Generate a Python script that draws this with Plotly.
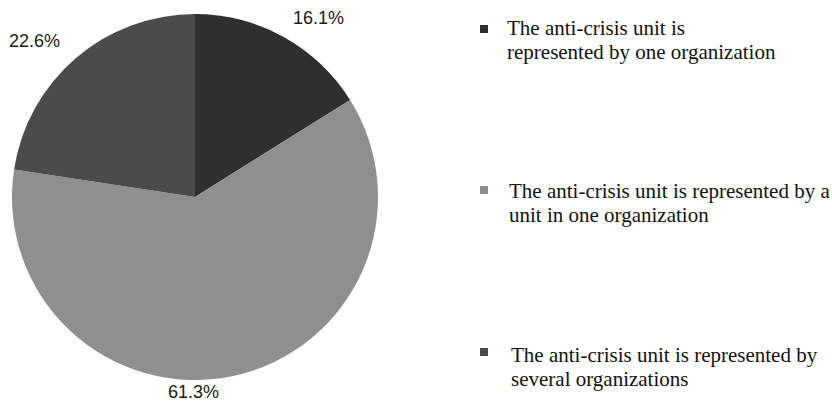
import plotly.graph_objects as go

W, H = 832, 405

# Survey shares of how the anti-crisis unit is organised
categories = [
    "The anti-crisis unit is<br>represented by one organization",
    "The anti-crisis unit is represented by a<br>unit in one organization",
    "The anti-crisis unit is represented by<br>several organizations",
]
shares = [16.1, 61.3, 22.6]
colors = ["#2f2f2f", "#8f8f8f", "#4b4b4b"]


def px(x):
    return x / W


def py(y):
    return 1 - y / H


fig = go.Figure()
fig.add_trace(go.Pie(
    labels=categories,
    values=shares,
    sort=False,
    direction="clockwise",
    rotation=0,
    marker=dict(colors=colors, line=dict(width=0)),
    textinfo="none",
    hoverinfo="label+percent",
    showlegend=False,
    domain=dict(x=[px(12), px(378)], y=[py(380), py(14)]),
))

# Percentage labels outside the slices
label_pos = [(318, 18), (193, 392), (34, 41)]
for v, (lx, ly) in zip(shares, label_pos):
    fig.add_annotation(
        x=px(lx), y=py(ly), xref="paper", yref="paper",
        text=f"{v}%", showarrow=False,
        font=dict(family="Liberation Sans, Arial, sans-serif", size=18, color="#1a1a1a"),
        xanchor="center", yanchor="middle",
    )

# Hand-placed legend: square swatch plus two-line caption
legend_rows = [(29, 28, 505), (190, 191, 507), (352, 355, 509)]
line_gap = 24
for cat, col, (my, ty, tx) in zip(categories, colors, legend_rows):
    fig.add_shape(
        type="rect", xref="paper", yref="paper",
        x0=px(480), x1=px(488), y0=py(my + 4), y1=py(my - 4),
        fillcolor=col, line=dict(width=0),
    )
    for i, line in enumerate(cat.split("<br>")):
        fig.add_annotation(
            x=px(tx), y=py(ty + i * line_gap), xref="paper", yref="paper",
            text=line, showarrow=False, align="left",
            font=dict(family="Liberation Serif, Times New Roman, serif", size=21, color="#111111"),
            xanchor="left", yanchor="middle",
        )

fig.update_layout(
    width=W, height=H,
    margin=dict(l=0, r=0, t=0, b=0),
    paper_bgcolor="white",
    plot_bgcolor="white",
)

fig.write_html("out.html")
